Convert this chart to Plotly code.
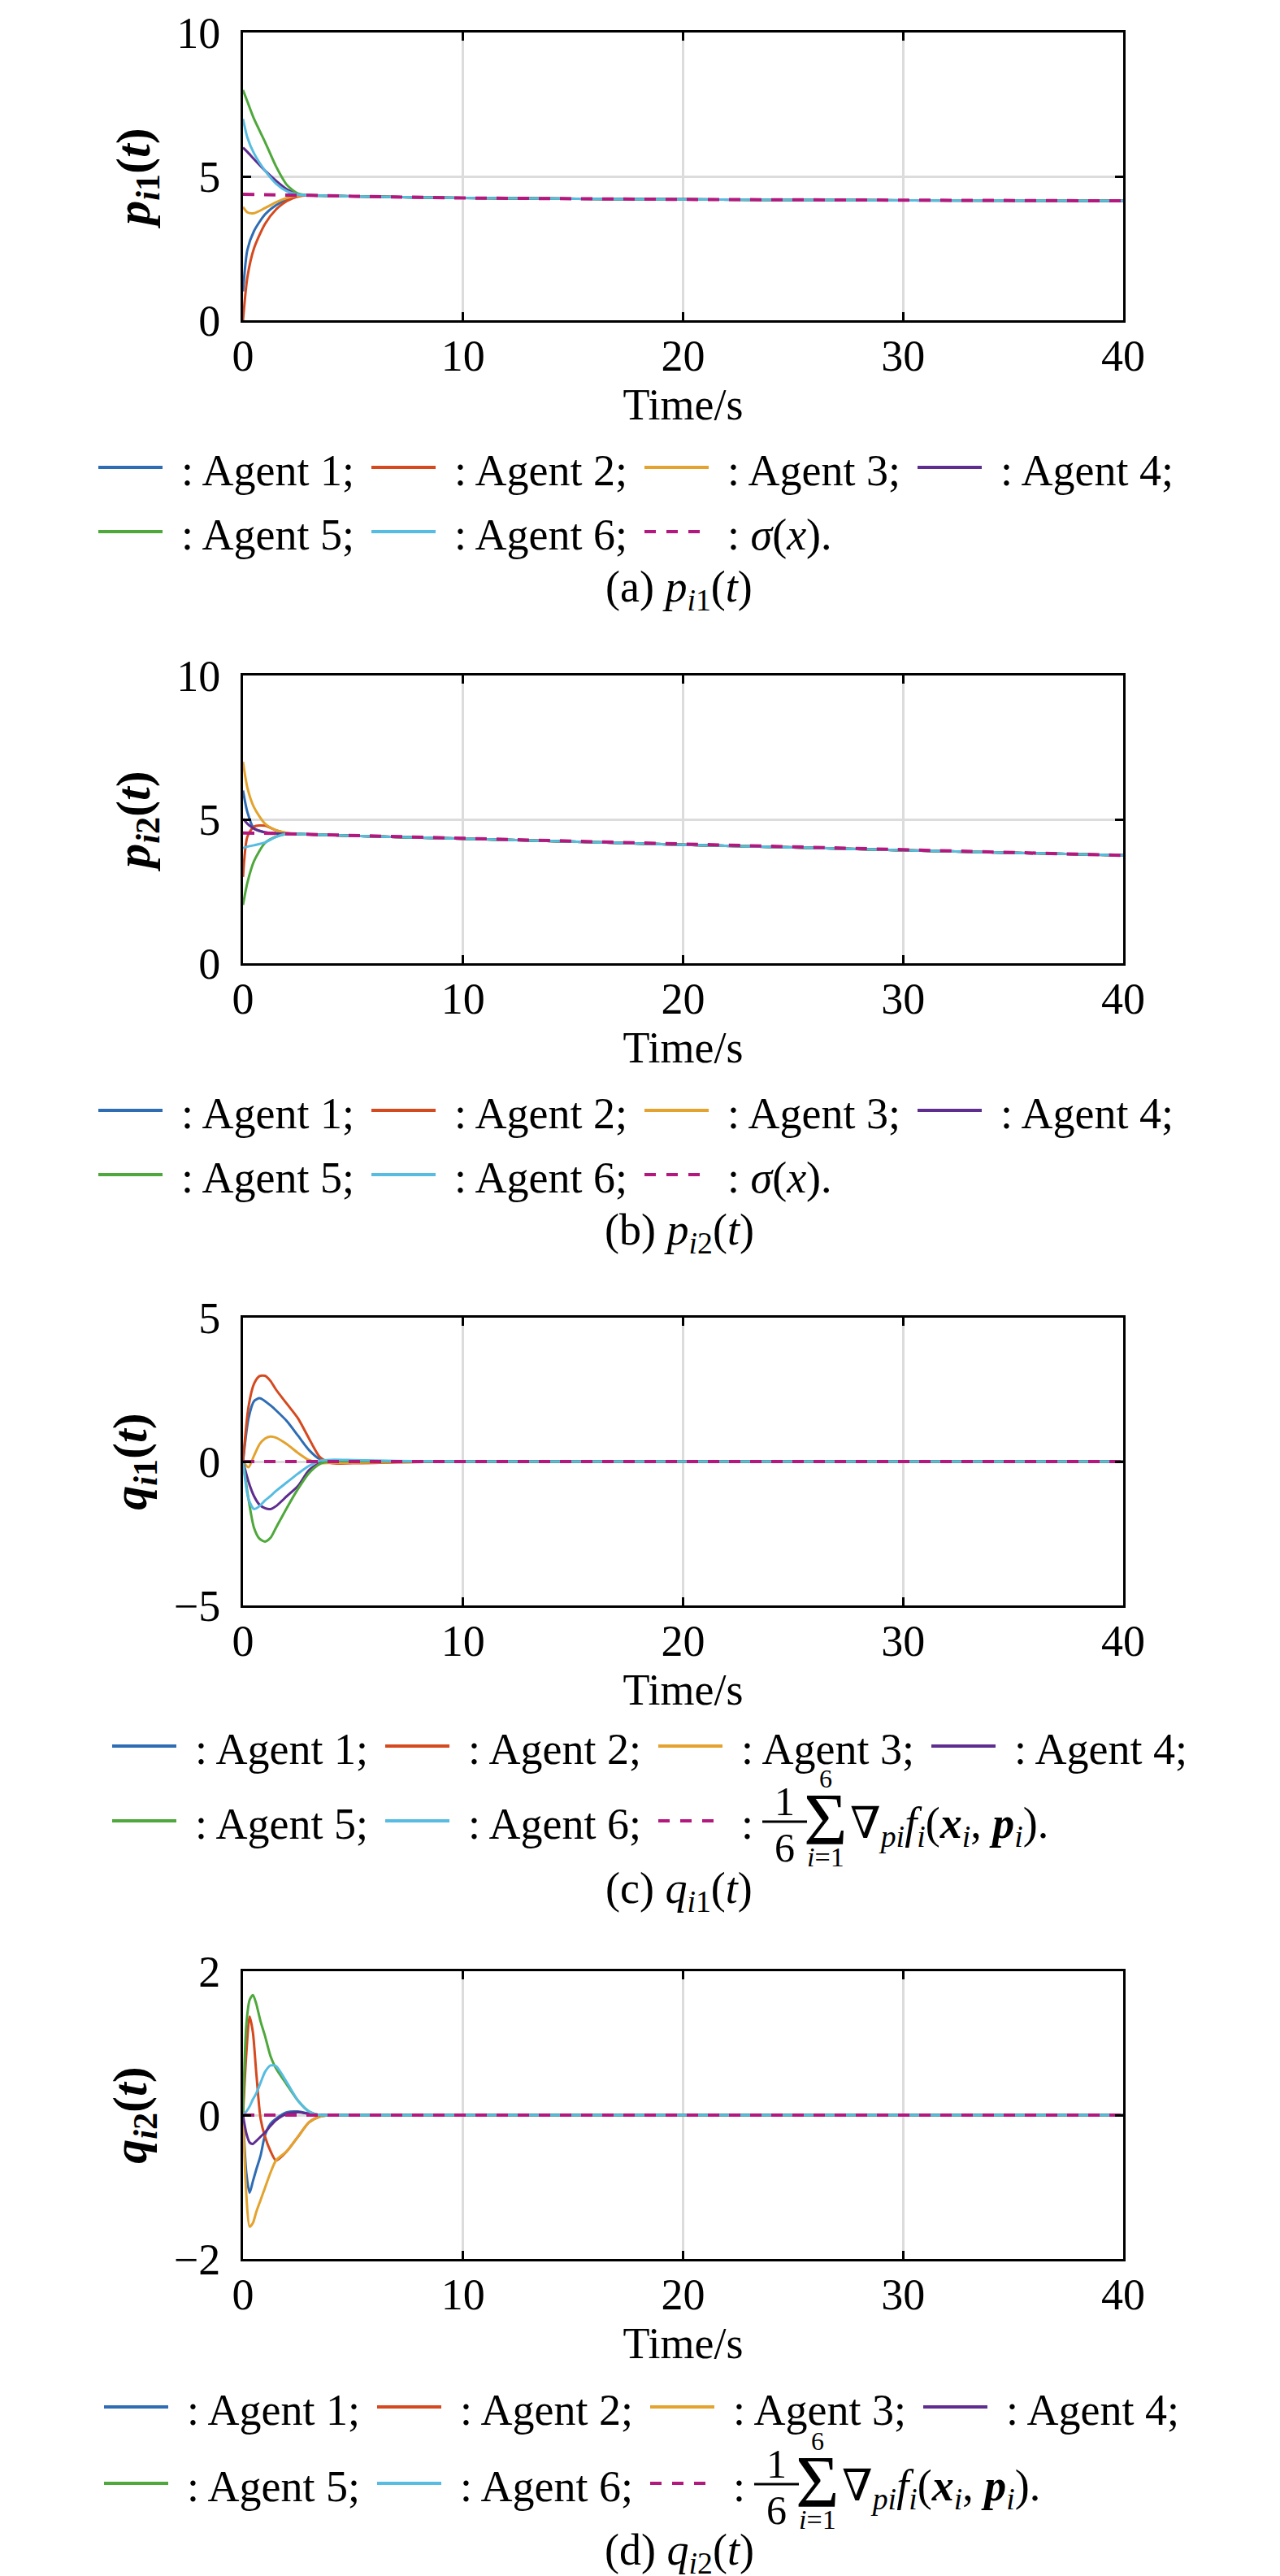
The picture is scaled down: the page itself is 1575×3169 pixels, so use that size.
import plotly.graph_objects as go
from plotly.subplots import make_subplots

# === data ===
AGENT_NAMES = ["Agent 1", "Agent 2", "Agent 3", "Agent 4", "Agent 5", "Agent 6"]
AGENT_COLORS = ["#2E6DB4", "#D5491F", "#E3A32E", "#5E2D8F", "#4EA83B", "#57BCE2"]
MEAN_COLOR = "#B3187F"

X_TICKS = [0, 10, 20, 30, 40]

# (a) p_i1(t)
T_A = [0, 0.2, 0.5, 1.0, 1.5, 2.0, 2.5, 3.0, 5, 10, 20, 30, 40]
P1_AGENT1 = [1.0, 2.45, 3.1, 3.68, 4.0, 4.2, 4.32, 4.34, 4.31, 4.25, 4.20, 4.17, 4.15]
P1_AGENT2 = [0.0, 1.5, 2.5, 3.35, 3.85, 4.15, 4.3, 4.34, 4.31, 4.25, 4.20, 4.17, 4.15]
P1_AGENT3 = [3.94, 3.75, 3.72, 3.9, 4.1, 4.25, 4.33, 4.34, 4.31, 4.25, 4.20, 4.17, 4.15]
P1_AGENT4 = [6.0, 5.85, 5.6, 5.2, 4.85, 4.55, 4.38, 4.34, 4.31, 4.25, 4.20, 4.17, 4.15]
P1_AGENT5 = [8.0, 7.6, 7.0, 6.2, 5.35, 4.7, 4.4, 4.34, 4.31, 4.25, 4.20, 4.17, 4.15]
P1_AGENT6 = [7.0, 6.35, 5.8, 5.2, 4.75, 4.48, 4.37, 4.34, 4.31, 4.25, 4.20, 4.17, 4.15]
P1_SIGMA = [4.38, 4.38, 4.37, 4.37, 4.36, 4.35, 4.35, 4.34, 4.31, 4.25, 4.20, 4.17, 4.15]

# (b) p_i2(t)
T_B = [0, 0.2, 0.5, 1.0, 1.5, 2.0, 2.5, 5, 10, 20, 30, 40]
P2_AGENT1 = [6.0, 5.25, 4.68, 4.55, 4.52, 4.50, 4.49, 4.43, 4.33, 4.12, 3.93, 3.75]
P2_AGENT2 = [3.0, 4.4, 4.75, 4.78, 4.62, 4.52, 4.49, 4.43, 4.33, 4.12, 3.93, 3.75]
P2_AGENT3 = [7.0, 6.1, 5.42, 4.85, 4.62, 4.53, 4.49, 4.43, 4.33, 4.12, 3.93, 3.75]
P2_AGENT4 = [5.02, 4.85, 4.68, 4.55, 4.51, 4.50, 4.49, 4.43, 4.33, 4.12, 3.93, 3.75]
P2_AGENT5 = [2.03, 2.8, 3.55, 4.18, 4.4, 4.49, 4.49, 4.43, 4.33, 4.12, 3.93, 3.75]
P2_AGENT6 = [4.0, 4.05, 4.1, 4.2, 4.39, 4.50, 4.49, 4.43, 4.33, 4.12, 3.93, 3.75]
P2_SIGMA = [4.53, 4.53, 4.53, 4.52, 4.51, 4.50, 4.49, 4.43, 4.33, 4.12, 3.93, 3.75]

# (c) q_i1(t)
T_C = [0, 0.25, 0.5, 0.75, 1.0, 1.25, 1.5, 2.0, 2.5, 3.0, 3.5, 4.0, 5.0, 7.0, 10, 20, 30, 40]
Q1_AGENT1 = [0, 1.5, 2.1, 2.2, 2.1, 1.95, 1.78, 1.4, 0.9, 0.4, 0.08, 0.0, 0.0, 0.0, 0, 0, 0, 0]
Q1_AGENT2 = [0, 1.9, 2.7, 2.97, 2.98, 2.8, 2.5, 2.0, 1.5, 0.8, 0.15, -0.05, -0.06, -0.03, 0, 0, 0, 0]
Q1_AGENT3 = [0, -0.2, 0.2, 0.6, 0.8, 0.87, 0.83, 0.6, 0.3, 0.05, -0.05, -0.05, -0.04, -0.02, 0, 0, 0, 0]
Q1_AGENT4 = [0, -0.7, -1.2, -1.5, -1.62, -1.65, -1.55, -1.2, -0.85, -0.3, -0.05, 0.02, 0.02, 0.01, 0, 0, 0, 0]
Q1_AGENT5 = [0, -1.3, -2.3, -2.68, -2.78, -2.65, -2.3, -1.6, -0.95, -0.4, -0.08, 0.02, 0.02, 0.01, 0, 0, 0, 0]
Q1_AGENT6 = [0, -1.3, -1.65, -1.55, -1.35, -1.2, -1.02, -0.72, -0.42, -0.15, 0.03, 0.06, 0.05, 0.02, 0, 0, 0, 0]
Q1_MEAN = [0, 0, 0, 0, 0, 0, 0, 0, 0, 0, 0, 0, 0, 0, 0, 0, 0, 0]

# (d) q_i2(t)
T_D = [0, 0.15, 0.3, 0.45, 0.6, 0.8, 1.0, 1.25, 1.5, 2.0, 2.5, 3.0, 3.5, 4.0, 10, 20, 30, 40]
Q2_AGENT1 = [0, -0.8, -1.08, -0.92, -0.76, -0.56, -0.28, -0.12, -0.05, 0.04, 0.05, 0.02, 0.0, 0.0, 0, 0, 0, 0]
Q2_AGENT2 = [0, 0.85, 1.37, 1.15, 0.6, -0.05, -0.3, -0.5, -0.63, -0.5, -0.3, -0.1, -0.02, 0.0, 0, 0, 0, 0]
Q2_AGENT3 = [0, -1.1, -1.55, -1.5, -1.35, -1.18, -1.01, -0.8, -0.63, -0.5, -0.3, -0.1, -0.02, 0.0, 0, 0, 0, 0]
Q2_AGENT4 = [0, -0.25, -0.38, -0.4, -0.36, -0.3, -0.24, -0.15, -0.07, 0.02, 0.04, 0.02, 0.0, 0.0, 0, 0, 0, 0]
Q2_AGENT5 = [0, 1.25, 1.6, 1.67, 1.55, 1.3, 1.1, 0.82, 0.65, 0.42, 0.2, 0.05, 0.0, 0.0, 0, 0, 0, 0]
Q2_AGENT6 = [0, 0.05, 0.12, 0.22, 0.3, 0.45, 0.6, 0.69, 0.68, 0.45, 0.2, 0.05, 0.0, 0.0, 0, 0, 0, 0]
Q2_MEAN = [0, 0, 0, 0, 0, 0, 0, 0, 0, 0, 0, 0, 0, 0, 0, 0, 0, 0]

PANELS = [
    dict(t=T_A, agents=[P1_AGENT1, P1_AGENT2, P1_AGENT3, P1_AGENT4, P1_AGENT5, P1_AGENT6],
         mean=P1_SIGMA, yrange=[0, 10], yticks=[0, 5, 10],
         ytitle="<b><i>p</i><sub><i>i</i>1</sub>(<i>t</i>)</b>",
         caption="(a) <i>p</i><sub><i>i</i>1</sub>(<i>t</i>)", formula=False),
    dict(t=T_B, agents=[P2_AGENT1, P2_AGENT2, P2_AGENT3, P2_AGENT4, P2_AGENT5, P2_AGENT6],
         mean=P2_SIGMA, yrange=[0, 10], yticks=[0, 5, 10],
         ytitle="<b><i>p</i><sub><i>i</i>2</sub>(<i>t</i>)</b>",
         caption="(b) <i>p</i><sub><i>i</i>2</sub>(<i>t</i>)", formula=False),
    dict(t=T_C, agents=[Q1_AGENT1, Q1_AGENT2, Q1_AGENT3, Q1_AGENT4, Q1_AGENT5, Q1_AGENT6],
         mean=Q1_MEAN, yrange=[-5, 5], yticks=[-5, 0, 5],
         ytitle="<b><i>q</i><sub><i>i</i>1</sub>(<i>t</i>)</b>",
         caption="(c) <i>q</i><sub><i>i</i>1</sub>(<i>t</i>)", formula=True),
    dict(t=T_D, agents=[Q2_AGENT1, Q2_AGENT2, Q2_AGENT3, Q2_AGENT4, Q2_AGENT5, Q2_AGENT6],
         mean=Q2_MEAN, yrange=[-2, 2], yticks=[-2, 0, 2],
         ytitle="<b><i>q</i><sub><i>i</i>2</sub>(<i>t</i>)</b>",
         caption="(d) <i>q</i><sub><i>i</i>2</sub>(<i>t</i>)", formula=True),
]

# === page geometry (pixels) ===
W, H = 1575, 3169
PLOT_L, PLOT_R = 291, 1374
PLOT_TOPS = [32, 823, 1613, 2417]
PLOT_BOTS = [386, 1177, 1967, 2771]
LEG_X0 = [113, 113, 130, 120]
LEG_ROW1 = [567, 1358, 2140, 2953]
LEG_ROW2 = [646, 1437, 2232, 3047]
CAPTION_Y = [717, 1508, 2318, 3132]
LEG_STEP = 336

FONT = "Times New Roman, Liberation Serif, DejaVu Serif, serif"
FS = 54


def px(x):
    return x / W


def py(y):
    return 1 - y / H


fig = make_subplots(rows=4, cols=1)

for i, p in enumerate(PANELS):
    r = i + 1
    for k, vals in enumerate(p["agents"]):
        fig.add_trace(go.Scatter(
            x=p["t"], y=vals, mode="lines", name=AGENT_NAMES[k],
            line=dict(color=AGENT_COLORS[k], width=3, shape="spline", smoothing=0.7),
            showlegend=False), row=r, col=1)
    fig.add_trace(go.Scatter(
        x=p["t"], y=p["mean"], mode="lines", name="mean",
        line=dict(color=MEAN_COLOR, width=4, dash="14px,12px"),
        showlegend=False), row=r, col=1)

    axis_common = dict(
        showline=True, linecolor="black", linewidth=3, mirror="ticks",
        ticks="inside", ticklen=10, tickwidth=3, tickcolor="black",
        showgrid=True, gridcolor="#DCDCDC", gridwidth=2.5, zeroline=False,
        tickfont=dict(family=FONT, size=FS, color="black"),
        automargin=False,
    )
    fig.update_xaxes(range=[0, 40], tickvals=X_TICKS,
                     domain=[px(PLOT_L), px(PLOT_R)], ticklabelstandoff=-6,
                     title=dict(text="Time/s", font=dict(family=FONT, size=FS, color="black"), standoff=2),
                     row=r, col=1, **axis_common)
    fig.update_yaxes(range=p["yrange"], tickvals=p["yticks"],
                     ticktext=[str(v).replace("-", "\u2212") for v in p["yticks"]],
                     domain=[py(PLOT_BOTS[i]), py(PLOT_TOPS[i])], ticklabelstandoff=14,
                     title=dict(text=p["ytitle"], font=dict(family=FONT, size=60, color="black"), standoff=14),
                     row=r, col=1, **axis_common)

# === legends and captions, drawn below each panel ===
shapes = []
annotations = []
labels = [": " + n + ";" for n in AGENT_NAMES]
for i, p in enumerate(PANELS):
    for k in range(7):
        row_y = LEG_ROW1[i] if k < 4 else LEG_ROW2[i]
        x0 = LEG_X0[i] + (k % 4) * LEG_STEP
        if k < 6:
            shapes.append(dict(type="line", xref="paper", yref="paper",
                               x0=px(x0), x1=px(x0 + 79), y0=py(row_y), y1=py(row_y),
                               line=dict(color=AGENT_COLORS[k], width=4)))
            annotations.append(dict(xref="paper", yref="paper", x=px(x0 + 100), y=py(row_y + 4),
                                    text=labels[k], showarrow=False, xanchor="left", yanchor="middle",
                                    font=dict(family=FONT, size=FS, color="black")))
        else:
            shapes.append(dict(type="line", xref="paper", yref="paper",
                               x0=px(x0), x1=px(x0 + 68), y0=py(row_y), y1=py(row_y),
                               line=dict(color=MEAN_COLOR, width=4, dash="14px,13px")))
            if not p["formula"]:
                annotations.append(dict(xref="paper", yref="paper", x=px(x0 + 100), y=py(row_y + 4),
                                        text=": <i>σ</i>(<i>x</i>).", showarrow=False,
                                        xanchor="left", yanchor="middle",
                                        font=dict(family=FONT, size=FS, color="black")))
            else:
                f = dict(family=FONT, size=FS, color="black")
                small = dict(family=FONT, size=34, color="black")
                annotations += [
                    dict(x=px(x0 + 100), y=py(row_y + 4), text=":", xanchor="left", font=f),
                    dict(x=px(x0 + 155), y=py(row_y - 24), text="1", xanchor="center", font=dict(f, size=50)),
                    dict(x=px(x0 + 155), y=py(row_y + 33), text="6", xanchor="center", font=dict(f, size=50)),
                    dict(x=px(x0 + 206), y=py(row_y - 2), text="Σ", xanchor="center", font=dict(f, size=92)),
                    dict(x=px(x0 + 206), y=py(row_y - 52), text="6", xanchor="center", font=dict(small, size=32)),
                    dict(x=px(x0 + 206), y=py(row_y + 44), text="<i>i</i>=1", xanchor="center", font=small),
                    dict(x=px(x0 + 234), y=py(row_y + 6),
                         text="∇<sub><i>pi</i></sub><i>f<sub>i</sub></i>(<b><i>x</i></b><sub><i>i</i></sub>, "
                              "<b><i>p</i></b><sub><i>i</i></sub>).",
                         xanchor="left", font=f),
                ]
                for a in annotations[-7:]:
                    a.update(xref="paper", yref="paper", showarrow=False, yanchor="middle")
                shapes.append(dict(type="line", xref="paper", yref="paper",
                                   x0=px(x0 + 128), x1=px(x0 + 183), y0=py(row_y + 1), y1=py(row_y + 1),
                                   line=dict(color="black", width=3)))
    annotations.append(dict(xref="paper", yref="paper", x=px((PLOT_L + PLOT_R) / 2 - 5), y=py(CAPTION_Y[i]),
                            text=p["caption"], showarrow=False, xanchor="center", yanchor="middle",
                            font=dict(family=FONT, size=FS, color="black")))

fig.update_layout(
    width=W, height=H,
    margin=dict(l=0, r=0, t=0, b=0),
    paper_bgcolor="white", plot_bgcolor="white",
    showlegend=False,
    shapes=shapes, annotations=annotations,
    font=dict(family=FONT, color="black"),
)

fig.write_html("out.html")
